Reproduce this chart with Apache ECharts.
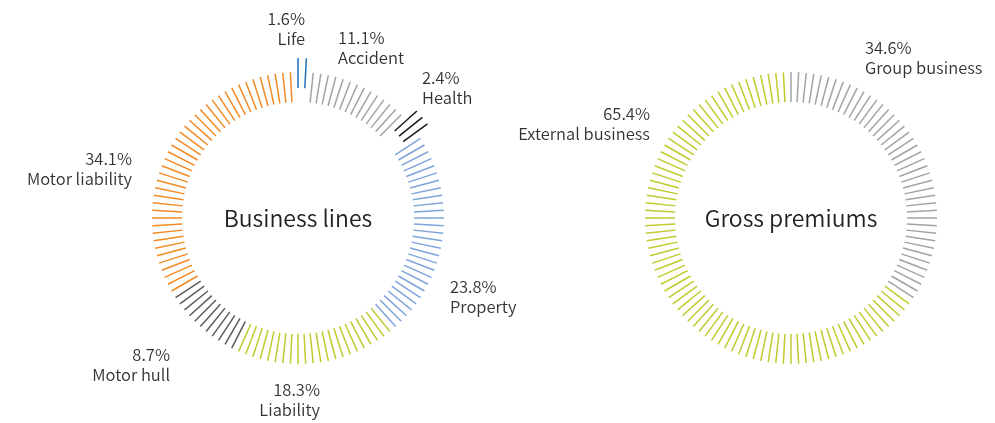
<!DOCTYPE html>
<html>
<head>
<meta charset="utf-8">
<script src="https://cdn.jsdelivr.net/npm/echarts@6/dist/echarts.min.js"></script>
<style>
  html, body { margin: 0; padding: 0; background: #fff; }
  #chart { width: 995px; height: 423px; }
</style>
</head>
<body>
<div id="chart"></div>
<script>
// business lines (clockwise from 12 o'clock)
const lineNames = ['Life', 'Accident', 'Health', 'Property', 'Liability', 'Motor hull', 'Motor liability'];
const lineShares = [1.6, 11.1, 2.4, 23.8, 18.3, 8.7, 34.1];
const lineColors = ['#1f6fb8', '#a3a3a3', '#1a1a1a', '#7ea4db', '#bfcb2e', '#5c5c5c', '#f28a25'];
const lineExploded = [true, false, true, false, false, false, false];

// gross premiums
const premiumNames = ['Group business', 'External business'];
const premiumShares = [34.6, 65.4];
const premiumColors = ['#a3a3a3', '#bfcb2e'];

// label anchors [x, y, align] for each slice
const lineLabelPos = [
  [305, 29, 'right'], [338, 48, 'left'], [422, 88, 'left'], [450, 297, 'left'],
  [320, 400, 'right'], [170, 365, 'right'], [132, 169, 'right']
];
const premiumLabelPos = [[865, 58, 'left'], [650, 124, 'right']];

const TICKS = 120;           // ticks around the full ring
const font = "'Noto Sans CJK JP', 'Noto Sans', sans-serif";

// color stops for a gauge; hidden slices get a transparent stop
function colorStops(shares, colors, visible) {
  let cum = 0;
  return shares.map((s, i) => {
    cum += s / 100;
    const stop = Math.min(1, cum * TICKS / (TICKS - 1));
    return [i === shares.length - 1 ? 1 : stop, visible[i] ? colors[i] : 'rgba(0,0,0,0)'];
  });
}

function ring(center, radius, stops, title) {
  return {
    type: 'gauge',
    center: center,
    radius: radius,
    startAngle: 90,
    endAngle: 90 - 360 * (TICKS - 1) / TICKS,
    splitNumber: TICKS - 1,
    axisLine: { show: false, lineStyle: { width: 0, color: stops } },
    splitLine: { show: true, length: 30, distance: 0, lineStyle: { color: 'auto', width: 1.5 } },
    axisTick: { show: false },
    axisLabel: { show: false },
    pointer: { show: false },
    anchor: { show: false },
    detail: { show: false },
    title: { show: !!title, offsetCenter: [0, 0], fontSize: 23, fontWeight: 350, color: '#222', fontFamily: font },
    data: [{ value: 0, name: title || '' }],
    silent: true
  };
}

function labels(names, shares, pos) {
  return names.map((n, i) => ({
    type: 'text',
    x: pos[i][0],
    y: pos[i][1],
    style: {
      text: shares[i].toFixed(1) + '%\n' + n,
      fill: '#333',
      font: '350 16.5px ' + font,
      lineHeight: 20,
      align: pos[i][2],
      verticalAlign: 'middle'
    }
  }));
}

const chart = echarts.init(document.getElementById('chart'));
chart.setOption({
  animation: false,
  series: [
    ring([298, 218], 146, colorStops(lineShares, lineColors, lineExploded.map(e => !e)), 'Business lines'),
    ring([298, 218], 160, colorStops(lineShares, lineColors, lineExploded), ''),
    ring([791, 218], 146, colorStops(premiumShares, premiumColors, premiumShares.map(() => true)), 'Gross premiums')
  ],
  graphic: labels(lineNames, lineShares, lineLabelPos).concat(labels(premiumNames, premiumShares, premiumLabelPos))
});
</script>
</body>
</html>
